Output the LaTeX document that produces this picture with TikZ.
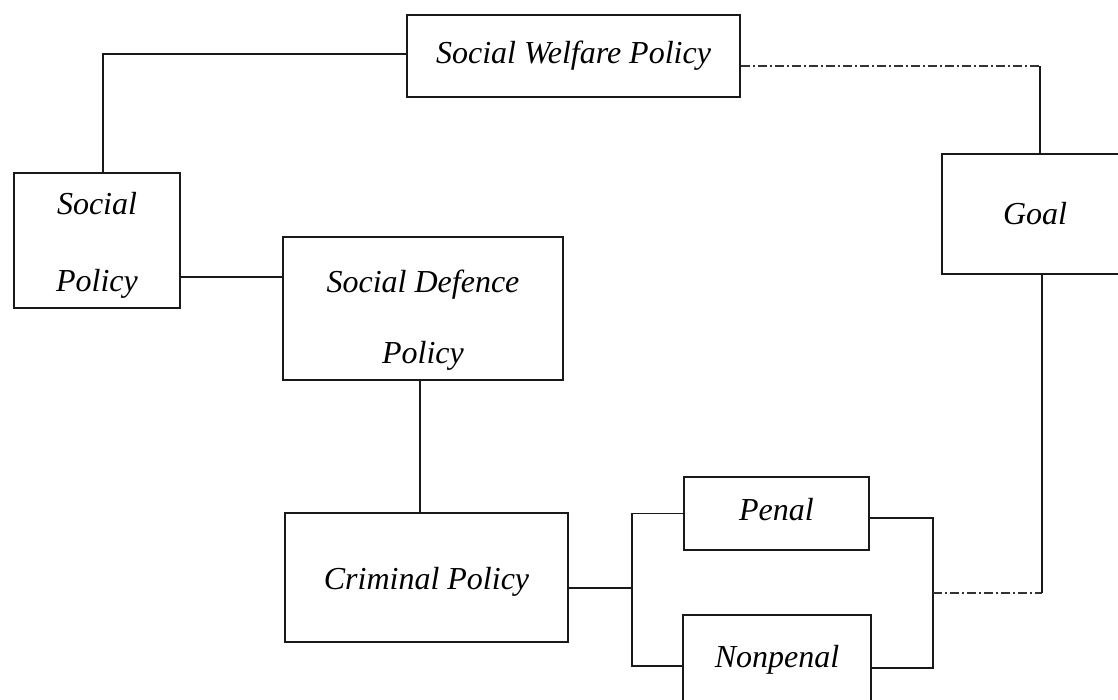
\documentclass[tikz,border=0pt]{standalone}
\usepackage{fontspec}
\setmainfont{Liberation Serif}
\newcommand{\shiftdown}[2]{\raisebox{-#1}[\height][\depth]{#2}}
\begin{document}
\begin{tikzpicture}[x=1pt,y=-1pt,
  box/.style={draw=black!90, line width=1.7pt, inner sep=0pt, align=center,
    font=\fontsize{32}{36}\selectfont\itshape},
  link/.style={draw=black!90, line width=1.7pt},
  faint/.style={draw=black!80, line width=1.4pt, dash pattern=on 9pt off 3pt on 2pt off 3pt}]
\useasboundingbox (0,0) rectangle (1118,699);
\clip (0,0) rectangle (1118,699);
% boxes
\node[box, minimum width=333pt, minimum height=82pt] (swp) at (573.5,56) {Social Welfare Policy};
\node[box, minimum width=166pt, minimum height=135pt] (sp) at (97,240.5)
  {\shiftdown{5pt}{\begin{tabular}{@{}c@{}}Social\\[41pt] Policy\end{tabular}}};
\node[box, minimum width=280pt, minimum height=143pt] (sdp) at (423,308.5)
  {\shiftdown{12pt}{\begin{tabular}{@{}c@{}}Social Defence\\[35pt] Policy\end{tabular}}};
\node[box, minimum width=186pt, minimum height=120pt] (goal) at (1035,214) {Goal};
\node[box, minimum width=283pt, minimum height=129pt] (crim) at (426.5,577.5) {\shiftdown{4pt}{Criminal Policy}};
\node[box, minimum width=185pt, minimum height=73pt] (penal) at (776.5,513.5) {\shiftdown{-4pt}{Penal}};
\node[box, minimum width=188pt, minimum height=86pt] (nonpenal) at (777,658) {\shiftdown{2pt}{Nonpenal}};
% junction coordinates
\coordinate (tl) at (103,54);
\coordinate (tr) at (1040,66);
\coordinate (jl) at (632,588);
\coordinate (jlt) at (632,513.5);
\coordinate (jlb) at (632,666);
\coordinate (jrt) at (933,518);
\coordinate (jrb) at (933,668);
\coordinate (jrm) at (933,593);
\coordinate (br) at (1042,593);
% connectors
\draw[link] ([yshift=2pt]swp.west) -- (tl) -- ([xshift=6pt]sp.north);
\draw[faint] ([yshift=-10pt]swp.east) -- (tr);
\draw[link] (tr) -- ([xshift=5pt]goal.north);
\draw[link] ([yshift=-36.5pt]sp.east) -- ([yshift=-36.5pt]sp.east -| sdp.west);
\draw[link] ([xshift=-3pt]sdp.south) -- ([xshift=-3pt]sdp.south |- crim.north);
\draw[link] ([yshift=-10.5pt]crim.east) -- (jl);
\draw[link] (penal.west) -- (jlt) -- (jlb) -- ([yshift=-8pt]nonpenal.west);
\draw[link] ([yshift=-4.5pt]penal.east) -- (jrt) -- (jrb) -- ([yshift=-10pt]nonpenal.east);
\draw[faint] (jrm) -- (br);
\draw[link] (br) -- ([xshift=7pt]goal.south);
\end{tikzpicture}
\end{document}
